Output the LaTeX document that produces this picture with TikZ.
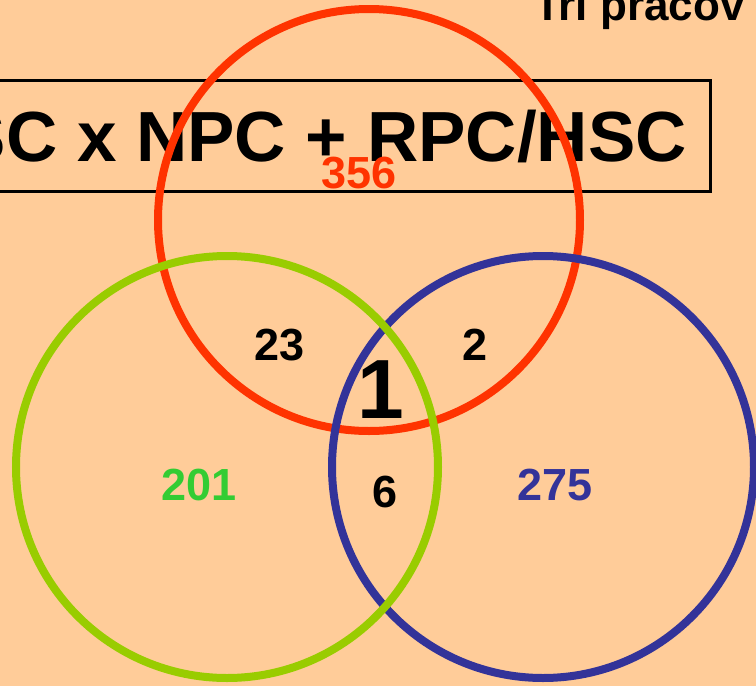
\documentclass[tikz,border=0pt]{standalone}
\usepackage{fontspec}
\setmainfont{Liberation Sans}
\definecolor{bg}{HTML}{FFCC99}
\definecolor{vred}{HTML}{FF3300}
\definecolor{vgreen}{HTML}{99CC00}
\definecolor{vblue}{HTML}{333399}
\definecolor{tgreen}{HTML}{33CC33}
\begin{document}
\begin{tikzpicture}[x=1pt,y=-1pt,
  vcirc/.style={circle,draw,line width=8pt,minimum size=422pt,inner sep=0pt},
  num/.style={font=\bfseries\fontsize{45}{54}\selectfont,inner sep=0pt,anchor=base}]
\useasboundingbox (0,0) rectangle (756,686);
\fill[bg] (0,0) rectangle (756,686);
\clip (0,0) rectangle (756,686);
% title box
\draw[line width=3pt] (-20,80) rectangle (710,191);
\node[font=\bfseries\fontsize{71}{80}\selectfont,inner sep=0pt,anchor=base east] (title) at (687,161) {HSC x NPC + RPC/HSC};
\node[font=\bfseries\fontsize{44}{50}\selectfont,inner sep=0pt,anchor=base west] (top) at (534,20) {Tri pracov};
% circles
\node[vcirc,draw=vred] (R) at (369,220) {};
\node[vcirc,draw=vblue] (B) at (543,467) {};
\node[vcirc,draw=vgreen] (G) at (227,467) {};
% numbers
\node[num,text=vred] (n356) at (359,188) {356};
\node[num] (n23) at (280,360) {23};
\node[num] (n2) at (475,360) {2};
\node[num,font=\bfseries\fontsize{84}{90}\selectfont] (n1) at (381,418) {1};
\node[num] (n6) at (385,507) {6};
\node[num,text=tgreen] (n201) at (199,500) {201};
\node[num,text=vblue] (n275) at (555,500) {275};
\end{tikzpicture}
\end{document}
